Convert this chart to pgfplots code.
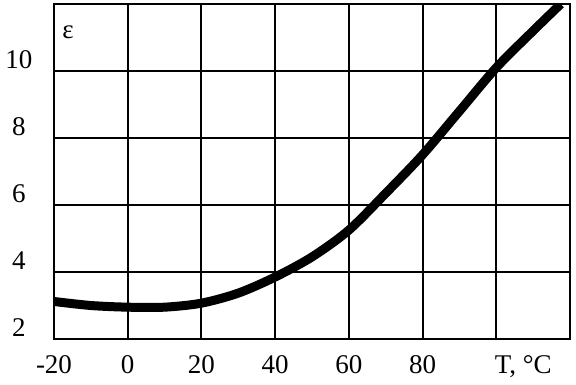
\documentclass[border=0pt]{standalone}
\usepackage{fontspec}
\setmainfont{Liberation Serif}
\usepackage{pgfplots}
\pgfplotsset{compat=1.18}
\begin{document}
\begin{tikzpicture}
\useasboundingbox (-54pt,-45pt) rectangle (522pt,339pt);
\begin{axis}[
 name=ax, at={(0pt,0pt)}, anchor=south west,
 scale only axis, width=516pt, height=335pt,
 xmin=-20, xmax=120, ymin=2, ymax=12,
 xtick={-20,0,20,40,60,80,100,120},
 xticklabels={-20,0,20,40,60,80,{},{}},
 ytick={2,4,6,8,10,12},
 yticklabels={2,4,6,8,10,{}},
 grid=major,
 major grid style={black, line width=2pt},
 axis line style={black, line width=2pt},
 major tick length=0pt,
 clip mode=individual,
 /pgf/number format/assume math mode=true,
 tick label style={font=\fontsize{27}{30}\selectfont},
 xticklabel style={yshift=-13pt},
 yticklabel style={anchor=center, xshift=-35pt, yshift=11pt},
]
\addplot[black, line width=9pt, smooth] coordinates {
(-20,3.12) (-10,3.0) (0,2.95) (10,2.95) (20,3.07) (30,3.37) (40,3.85) (50,4.45) (60,5.25) (70,6.35) (80,7.5) (90,8.8) (100,10.1) (110,11.2) (117.5,12.0)
};
\node[font=\fontsize{27}{30}\selectfont, anchor=north west, xshift=-5pt, yshift=-13pt] at (axis cs:100,2) {T, °C};
\node[font=\fontsize{27}{30}\selectfont] at (axis cs:-16.2,11.15) {ε};
\end{axis}
\end{tikzpicture}
\end{document}
